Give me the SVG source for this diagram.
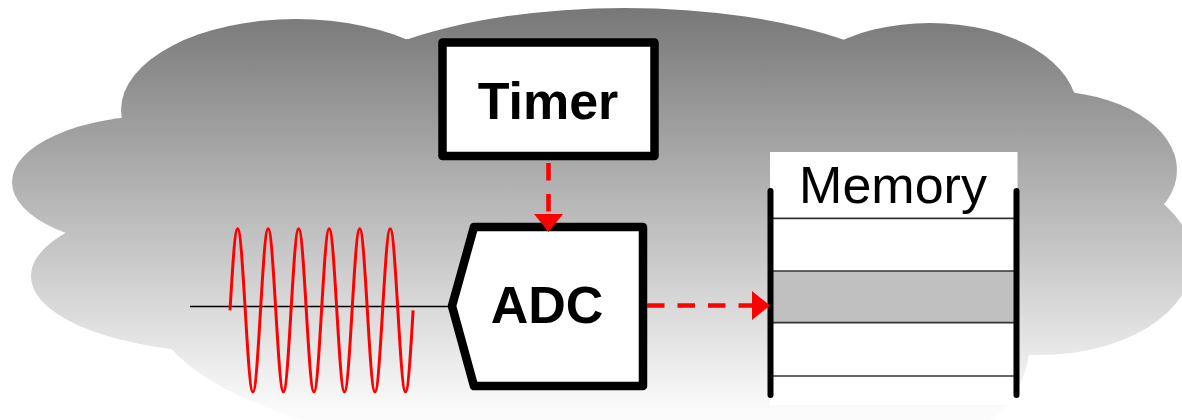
<svg xmlns="http://www.w3.org/2000/svg" width="1182" height="420" viewBox="0 0 1182 420">
  <style>
    .cloud { fill: url(#cloudGrad); }
    .box { fill: #ffffff; stroke: #000000; stroke-width: 8.5; stroke-linejoin: round; }
    .label { font-family: "Liberation Sans", Arial, sans-serif; font-size: 52px; fill: #000000; text-anchor: middle; }
    .bold { font-weight: bold; }
    .flow { stroke: #ff0000; stroke-width: 4.6; fill: none; }
    .bar { stroke: #000000; stroke-width: 6; stroke-linecap: round; }
    .row { stroke: #333333; stroke-width: 1.7; }
  </style>
  <defs>
    <linearGradient id="cloudGrad" gradientUnits="userSpaceOnUse" x1="0" y1="10" x2="0" y2="410">
      <stop offset="0" stop-color="#787878"/>
      <stop offset="1" stop-color="#fbfbfb"/>
    </linearGradient>
    <marker id="arrow" markerUnits="userSpaceOnUse" viewBox="0 0 18 29" markerWidth="18" markerHeight="29" refX="0" refY="14.5" orient="auto">
      <path d="M0,0 L18,14.5 L0,29 Z" fill="#ff0000"/>
    </marker>
  </defs>

  <rect width="1182" height="420" fill="#ffffff"/>

  <g id="cloud">
    <ellipse class="cloud" cx="162" cy="182" rx="150" ry="66.6"/>
    <ellipse class="cloud" cx="231" cy="276" rx="200" ry="76.5"/>
    <ellipse class="cloud" cx="600" cy="300" rx="450" ry="160"/>
    <circle class="cloud" cx="930" cy="340" r="100"/>
    <ellipse class="cloud" cx="296" cy="110" rx="175" ry="91"/>
    <ellipse class="cloud" cx="625" cy="120" rx="314" ry="112"/>
    <ellipse class="cloud" cx="930" cy="110" rx="147" ry="87"/>
    <ellipse class="cloud" cx="1047" cy="170" rx="130" ry="79"/>
    <ellipse class="cloud" cx="1040" cy="260" rx="153" ry="95"/>
    <polygon class="cloud" points="122,118 408,39 844,41 1074,92 1163,205 1030,355 160,347 65,233"/>
  </g>

  <g id="signal">
    <line x1="190" y1="306.5" x2="450" y2="306.5" stroke="#000000" stroke-width="1.5"/>
    <path fill="none" stroke="#ff0000" stroke-width="3" d="M230,310.3 c2.488,-41.75 4.868,-81.5 7.63,-81.5
      s5.142,39.75 7.63,81.5 s4.868,81.5 7.63,81.5 s5.142,-39.75 7.63,-81.5 s4.868,-81.5 7.63,-81.5
      s5.142,39.75 7.63,81.5 s4.868,81.5 7.63,81.5 s5.142,-39.75 7.63,-81.5 s4.868,-81.5 7.63,-81.5
      s5.142,39.75 7.63,81.5 s4.868,81.5 7.63,81.5 s5.142,-39.75 7.63,-81.5 s4.868,-81.5 7.63,-81.5
      s5.142,39.75 7.63,81.5 s4.868,81.5 7.63,81.5 s5.142,-39.75 7.63,-81.5 s4.868,-81.5 7.63,-81.5
      s5.142,39.75 7.63,81.5 s4.868,81.5 7.63,81.5 s5.142,-39.75 7.63,-81.5 s4.868,-81.5 7.63,-81.5
      s5.142,39.75 7.63,81.5 s4.868,81.5 7.63,81.5 s5.142,-39.75 7.63,-81.5"/>
  </g>

  <g id="timer">
    <rect class="box" x="442.5" y="42.5" width="212" height="113.5"/>
    <text class="label bold" x="548" y="119">Timer</text>
  </g>

  <g id="adc">
    <polygon class="box" points="474,227 643,227 643,386 474,386 452,306"/>
    <text class="label bold" x="547" y="322.7">ADC</text>
  </g>

  <g id="memory">
    <rect x="770" y="152" width="247.5" height="253" fill="#ffffff"/>
    <rect x="770.5" y="271" width="246" height="52" fill="#c0c0c0"/>
    <line class="row" x1="770.5" y1="218.3" x2="1016.5" y2="218.3"/>
    <line class="row" x1="770.5" y1="271" x2="1016.5" y2="271"/>
    <line class="row" x1="770.5" y1="322.7" x2="1016.5" y2="322.7"/>
    <line class="row" x1="770.5" y1="376" x2="1016.5" y2="376"/>
    <line class="bar" x1="770.5" y1="191" x2="770.5" y2="395"/>
    <line class="bar" x1="1016.5" y1="191" x2="1016.5" y2="395"/>
    <text class="label" x="893" y="203">Memory</text>
  </g>

  <g id="connectors">
    <line class="flow" x1="548.5" y1="163" x2="548.5" y2="214" stroke-dasharray="17.5 13.5" marker-end="url(#arrow)"/>
    <line class="flow" x1="647" y1="305.5" x2="752" y2="305.5" stroke-dasharray="17.5 13" marker-end="url(#arrow)"/>
  </g>
</svg>
